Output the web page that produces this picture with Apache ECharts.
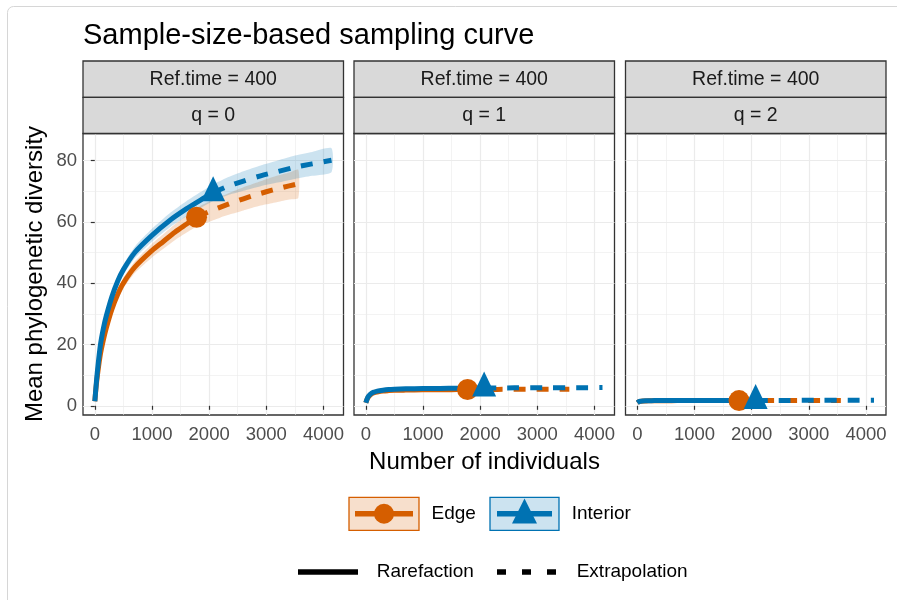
<!DOCTYPE html>
<html><head><meta charset="utf-8">
<script src="https://cdn.jsdelivr.net/npm/echarts@6/dist/echarts.min.js"></script>
<style>html,body{margin:0;padding:0;background:#fff}#c{width:897px;height:600px}</style>
</head><body><div id="c"></div>
<script>
// ---------- data ----------
const xTickValues = [0, 1000, 2000, 3000, 4000];
const xMinorValues = [500, 1500, 2500, 3500];
const yTickValues = [0, 20, 40, 60, 80];
const yMinorValues = [10, 30, 50, 70];
const stripTopLabel = 'Ref.time = 400';
const stripLabels = ['q = 0', 'q = 1', 'q = 2'];
const groupNames = ['Edge', 'Interior'];
const methodNames = ['Rarefaction', 'Extrapolation'];

// sample sizes (number of individuals)
const sizeEdgeRare = [1, 25, 50, 100, 150, 200, 300, 400, 500, 700, 1000, 1200, 1400, 1600, 1780];
const sizeEdgeExt  = [1780, 2000, 2200, 2400, 2600, 2800, 3000, 3200, 3400, 3560];
const sizeIntRare  = [1, 25, 50, 100, 150, 200, 300, 400, 500, 700, 1000, 1300, 1600, 1850, 2070];
const sizeIntExt   = [2070, 2300, 2600, 2900, 3200, 3500, 3800, 4140];

// q = 0
const edgeQ0Rare   = [1.5, 6.5, 10.5, 17, 21.5, 25.3, 31.5, 36.3, 40, 45.2, 50.6, 53.6, 56.6, 59.2, 61.5];
const edgeQ0RareLo = [1.5, 6.1, 9.7, 16.0, 20.4, 24.0, 30.0, 34.7, 38.3, 43.3, 48.4, 51.2, 54.0, 56.4, 58.5];
const edgeQ0RareHi = [1.5, 6.9, 11.3, 18.0, 22.6, 26.6, 33.0, 37.9, 41.7, 47.1, 52.8, 56.0, 59.2, 62.0, 64.5];
const edgeQ0Ext    = [61.5, 63.3, 64.8, 66.2, 67.5, 68.7, 69.8, 70.8, 71.7, 72.4];
const edgeQ0ExtLo  = [58.5, 60.0, 61.4, 62.6, 63.7, 64.8, 65.7, 66.5, 67.3, 67.8];
const edgeQ0ExtHi  = [64.5, 66.6, 68.2, 69.8, 71.3, 72.6, 73.9, 75.1, 76.1, 77.0];
const intQ0Rare    = [1.5, 7, 12, 20, 25.2, 29.2, 35.6, 40.6, 44.4, 50, 55.6, 60.3, 64.2, 67.1, 69.5];
const intQ0RareLo  = [1.5, 6.5, 11.2, 19.0, 24.1, 28.0, 34.2, 39.1, 42.7, 48.1, 53.5, 58.0, 61.7, 64.5, 66.8];
const intQ0RareHi  = [1.5, 7.5, 12.8, 21.0, 26.3, 30.4, 37.0, 42.1, 46.1, 51.9, 57.7, 62.6, 66.7, 69.7, 72.2];
const intQ0Ext     = [69.5, 71.4, 73.3, 75.0, 76.4, 77.8, 78.9, 80.1];
const intQ0ExtLo   = [66.8, 68.5, 70.1, 71.6, 72.8, 74.0, 75.0, 76.2];
const intQ0ExtHi   = [72.2, 74.3, 76.5, 78.4, 80.0, 81.6, 82.8, 84.0];

// q = 1
const edgeQ1Rare = [1.0, 2.2, 3.0, 3.9, 4.3, 4.5, 4.8, 4.95, 5.05, 5.12, 5.2, 5.23, 5.26, 5.28, 5.3];
const edgeQ1Ext  = [5.3, 5.32, 5.34, 5.36, 5.37, 5.38, 5.39, 5.4, 5.41, 5.42];
const intQ1Rare  = [1.0, 2.3, 3.2, 4.1, 4.5, 4.8, 5.1, 5.3, 5.4, 5.52, 5.62, 5.68, 5.73, 5.77, 5.8];
const intQ1Ext   = [5.8, 5.82, 5.85, 5.87, 5.89, 5.91, 5.92, 5.94];

// q = 2
const edgeQ2Rare = [1.0, 1.3, 1.45, 1.55, 1.59, 1.62, 1.65, 1.67, 1.68, 1.69, 1.7, 1.7, 1.71, 1.71, 1.71];
const edgeQ2Ext  = [1.71, 1.71, 1.71, 1.72, 1.72, 1.72, 1.72, 1.72, 1.72, 1.72];
const intQ2Rare  = [1.0, 1.3, 1.5, 1.6, 1.64, 1.67, 1.7, 1.72, 1.73, 1.74, 1.75, 1.75, 1.76, 1.76, 1.76];
const intQ2Ext   = [1.76, 1.76, 1.76, 1.77, 1.77, 1.77, 1.77, 1.77];

// ---------- styling / layout ----------
const FONT = "'Liberation Sans', Arial, Helvetica, sans-serif";
const ORANGE = '#D55E00', BLUE = '#0072B2';
const ORANGE_FILL = 'rgba(213,94,0,0.2)', BLUE_FILL = 'rgba(0,114,178,0.2)';
const gridLefts = [83, 354, 625.5];
const gridW = 260.5, gridTop = 133.5, gridH = 281.5;
const X_MIN = -206, X_MAX = 4350, Y_MIN = -3, Y_MAX = 88.8;

const panels = [
  {edgeRare: edgeQ0Rare, edgeExt: edgeQ0Ext, intRare: intQ0Rare, intExt: intQ0Ext,
   edgeBand: [edgeQ0RareLo.concat(edgeQ0ExtLo.slice(1)), edgeQ0RareHi.concat(edgeQ0ExtHi.slice(1))],
   intBand: [intQ0RareLo.concat(intQ0ExtLo.slice(1)), intQ0RareHi.concat(intQ0ExtHi.slice(1))]},
  {edgeRare: edgeQ1Rare, edgeExt: edgeQ1Ext, intRare: intQ1Rare, intExt: intQ1Ext},
  {edgeRare: edgeQ2Rare, edgeExt: edgeQ2Ext, intRare: intQ2Rare, intExt: intQ2Ext}
];

const zip = (xs, ys) => xs.map((x, i) => [x, ys[i]]);
const plain = v => String(v);

function bandSeries(ai, xs, lo, hi, color) {
  const rows = xs.map((x, i) => [x, lo[i], hi[i]]);
  return {
    type: 'custom', xAxisIndex: ai, yAxisIndex: ai, silent: true, z: 1, animation: false,
    data: rows, encode: {x: 0, y: [1, 2]},
    renderItem(params, api) {
      if (params.dataIndex !== 0) return null;
      const up = rows.map(r => api.coord([r[0], r[2]]));
      const dn = rows.map(r => api.coord([r[0], r[1]])).reverse();
      return {type: 'polygon', shape: {points: up.concat(dn), smooth: 0.2}, style: {fill: color}};
    }
  };
}
function lineSeries(ai, xs, ys, color, dashed, z) {
  return {
    type: 'line', xAxisIndex: ai, yAxisIndex: ai, data: zip(xs, ys),
    showSymbol: false, symbol: 'none', smooth: 0.3,
    lineStyle: {color, width: 5, type: dashed ? [12, 11] : 'solid', cap: 'butt', join: 'round'},
    z, animation: false, silent: true
  };
}

const xAxis = [], yAxis = [], grid = [], series = [], graphic = [];
panels.forEach((p, i) => {
  grid.push({left: gridLefts[i], top: gridTop, width: gridW, height: gridH, show: true,
    borderColor: '#333', borderWidth: 1.3, backgroundColor: 'rgba(0,0,0,0)'});
  xAxis.push({
    type: 'value', gridIndex: i, min: X_MIN, max: X_MAX, position: 'bottom',
    axisLine: {show: false},
    axisTick: {show: true, customValues: xTickValues, length: 4, lineStyle: {color: '#333', width: 1.2}},
    axisLabel: {show: true, customValues: xTickValues, formatter: plain, margin: 10, color: '#4D4D4D', fontSize: 18.5, fontFamily: FONT},
    splitLine: {show: true, lineStyle: {color: '#EBEBEB', width: 1.2}}
  }, {
    type: 'value', gridIndex: i, min: X_MIN, max: X_MAX, position: 'top',
    axisLine: {show: false},
    axisTick: {show: false, customValues: xMinorValues},
    axisLabel: {show: false, customValues: xMinorValues},
    splitLine: {show: true, lineStyle: {color: '#EBEBEB', width: 0.6}}
  });
  yAxis.push({
    type: 'value', gridIndex: i, min: Y_MIN, max: Y_MAX, position: 'left',
    axisLine: {show: false},
    axisTick: {show: i === 0, customValues: yTickValues, length: 4, lineStyle: {color: '#333', width: 1.2}},
    axisLabel: {show: i === 0, customValues: yTickValues, formatter: plain, margin: 6, color: '#4D4D4D', fontSize: 18.5, fontFamily: FONT},
    splitLine: {show: true, lineStyle: {color: '#EBEBEB', width: 1.2}}
  }, {
    type: 'value', gridIndex: i, min: Y_MIN, max: Y_MAX, position: 'right',
    axisLine: {show: false},
    axisTick: {show: false, customValues: yMinorValues},
    axisLabel: {show: false, customValues: yMinorValues},
    splitLine: {show: true, lineStyle: {color: '#EBEBEB', width: 0.6}}
  });
  const ai = 2 * i;
  if (p.edgeBand) {
    series.push(bandSeries(ai, sizeEdgeRare.concat(sizeEdgeExt.slice(1)), p.edgeBand[0], p.edgeBand[1], ORANGE_FILL));
    series.push(bandSeries(ai, sizeIntRare.concat(sizeIntExt.slice(1)), p.intBand[0], p.intBand[1], BLUE_FILL));
  }
  series.push(lineSeries(ai, sizeEdgeExt, p.edgeExt, ORANGE, true, 2));
  series.push(lineSeries(ai, sizeEdgeRare, p.edgeRare, ORANGE, false, 2));
  series.push(lineSeries(ai, sizeIntExt, p.intExt, BLUE, true, 3));
  series.push(lineSeries(ai, sizeIntRare, p.intRare, BLUE, false, 3));
  series.push({type: 'scatter', xAxisIndex: ai, yAxisIndex: ai, silent: true, animation: false, z: 4,
    data: [[sizeEdgeRare[sizeEdgeRare.length - 1], p.edgeRare[p.edgeRare.length - 1]]],
    symbol: 'circle', symbolSize: 21, itemStyle: {color: ORANGE, opacity: 1}});
  series.push({type: 'scatter', xAxisIndex: ai, yAxisIndex: ai, silent: true, animation: false, z: 5,
    data: [[sizeIntRare[sizeIntRare.length - 1], p.intRare[p.intRare.length - 1]]],
    symbol: 'triangle', symbolSize: [24, 25], symbolOffset: [0, -4], itemStyle: {color: BLUE, opacity: 1}});

  // facet strips
  const L = gridLefts[i];
  graphic.push({type: 'rect', shape: {x: L, y: 61, width: gridW, height: 36.3},
    style: {fill: '#D9D9D9', stroke: '#333', lineWidth: 1.3}, z: 5});
  graphic.push({type: 'rect', shape: {x: L, y: 97.3, width: gridW, height: 36.2},
    style: {fill: '#D9D9D9', stroke: '#333', lineWidth: 1.3}, z: 5});
  graphic.push({type: 'text', x: L + gridW / 2, y: 79.5, z: 6,
    style: {text: stripTopLabel, align: 'center', verticalAlign: 'middle', fontSize: 19.5, fill: '#1A1A1A', fontFamily: FONT}});
  graphic.push({type: 'text', x: L + gridW / 2, y: 115.5, z: 6,
    style: {text: stripLabels[i], align: 'center', verticalAlign: 'middle', fontSize: 19.5, fill: '#1A1A1A', fontFamily: FONT}});
});

// outer frame
graphic.push({type: 'rect', shape: {x: 7.5, y: 6.5, width: 905, height: 605, r: 6},
  style: {fill: 'none', stroke: '#D6D6D6', lineWidth: 1}, z: 0});
// axis titles
graphic.push({type: 'text', x: 484.5, y: 462, z: 6,
  style: {text: 'Number of individuals', align: 'center', verticalAlign: 'middle', fontSize: 24, fill: '#000', fontFamily: FONT}});
graphic.push({type: 'text', x: 35, y: 274, rotation: Math.PI / 2, z: 6,
  style: {text: 'Mean phylogenetic diversity', align: 'center', verticalAlign: 'middle', fontSize: 24, fill: '#000', fontFamily: FONT}});

// legend (group colours)
const LY = 513.7;
graphic.push({type: 'rect', shape: {x: 349, y: 497.3, width: 70, height: 33}, style: {fill: ORANGE_FILL, stroke: ORANGE, lineWidth: 1.3}, z: 6});
graphic.push({type: 'line', shape: {x1: 355, y1: LY, x2: 413, y2: LY}, style: {stroke: ORANGE, lineWidth: 5.5}, z: 7});
graphic.push({type: 'circle', shape: {cx: 384, cy: LY, r: 10}, style: {fill: ORANGE}, z: 8});
graphic.push({type: 'text', x: 431.5, y: LY, z: 6, style: {text: groupNames[0], verticalAlign: 'middle', fontSize: 19, fill: '#000', fontFamily: FONT}});
graphic.push({type: 'rect', shape: {x: 490, y: 497.3, width: 69, height: 33}, style: {fill: BLUE_FILL, stroke: BLUE, lineWidth: 1.3}, z: 6});
graphic.push({type: 'line', shape: {x1: 497, y1: LY, x2: 552, y2: LY}, style: {stroke: BLUE, lineWidth: 5.5}, z: 7});
graphic.push({type: 'polygon', shape: {points: [[524.5, 498.5], [512, 523.5], [537, 523.5]]}, style: {fill: BLUE}, z: 8});
graphic.push({type: 'text', x: 571.7, y: LY, z: 6, style: {text: groupNames[1], verticalAlign: 'middle', fontSize: 19, fill: '#000', fontFamily: FONT}});
// legend (method line types)
const LY2 = 572;
graphic.push({type: 'line', shape: {x1: 298, y1: LY2, x2: 358, y2: LY2}, style: {stroke: '#000', lineWidth: 5.5}, z: 7});
graphic.push({type: 'text', x: 376.7, y: LY2, z: 6, style: {text: methodNames[0], verticalAlign: 'middle', fontSize: 19, fill: '#000', fontFamily: FONT}});
graphic.push({type: 'line', shape: {x1: 497, y1: LY2, x2: 556, y2: LY2}, style: {stroke: '#000', lineWidth: 5.5, lineDash: [9, 16]}, z: 7});
graphic.push({type: 'text', x: 576.7, y: LY2, z: 6, style: {text: methodNames[1], verticalAlign: 'middle', fontSize: 19, fill: '#000', fontFamily: FONT}});

const chart = echarts.init(document.getElementById('c'), null, {renderer: 'canvas'});
chart.setOption({
  animation: false,
  backgroundColor: '#fff',
  title: {text: 'Sample-size-based sampling curve', left: 83, top: 21, padding: 0,
    textStyle: {fontSize: 29, fontWeight: 'normal', color: '#000', fontFamily: FONT}},
  grid, xAxis, yAxis, series, graphic
});
</script></body></html>
